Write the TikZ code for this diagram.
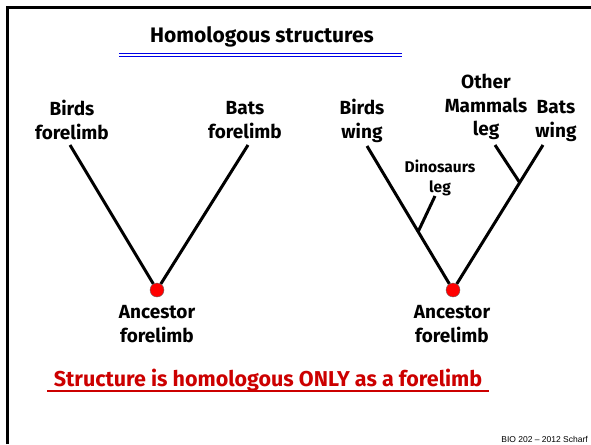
\documentclass[tikz,border=0pt]{standalone}
\usepackage{fontspec}
\setmainfont{Fira Sans}
\newfontfamily\footfont{Liberation Sans}
\definecolor{lineblue}{RGB}{0,0,230}
\definecolor{notered}{RGB}{204,0,0}
\begin{document}
\begin{tikzpicture}[x=1pt,y=-1pt,
	lbl/.style={ align=center, inner sep=0pt, font=\bfseries\fontsize{19}{23.5}\selectfont },
	lblsmall/.style={ align=center, inner sep=0pt, font=\bfseries\fontsize{15.5}{20}\selectfont },
	branch/.style={ line width=3pt },
	rootdot/.style={ circle, draw=black!60, thin, fill=red, inner sep=0pt, minimum size=14pt }
]
\useasboundingbox (0,0) rectangle (591,444);

% slide frame
\draw[line width=3pt] (7,444) -- (7,8) -- (591,8);

% title
\node at (262,37) (title) [font=\bfseries\fontsize{21}{25}\selectfont] {Homologous structures};
\draw[lineblue, line width=1pt] (119,54) -- (402,54);
\draw[lineblue, line width=1pt] (119,57) -- (402,57);

% left tree
\node at (72,120) (lbirds) [lbl] {Birds\\forelimb};
\node at (245,120) (lbats) [lbl] {Bats\\forelimb};
\node at (157,290) (ldot) [rootdot] {};
\node at (157,324) (lanc) [lbl] {Ancestor\\forelimb};
\coordinate (lbirdst) at (70,145);
\coordinate (lbatst) at (248,145);
\draw[branch] (lbirdst) to (ldot);
\draw[branch] (lbatst) to (ldot);

% right tree
\node at (362,121) (rbirds) [lbl] {Birds\\wing};
\node at (440,178) (rdino) [lblsmall] {Dinosaurs\\leg};
\node at (486,107) (rmamm) [lbl] {Other\\Mammals\\leg};
\node at (556,121) (rbats) [lbl] {Bats\\wing};
\node at (453,290) (rdot) [rootdot] {};
\node at (452,324) (ranc) [lbl] {Ancestor\\forelimb};
\coordinate (rbirdst) at (367,146);
\coordinate (rdinot) at (435,196);
\coordinate (rdinoj) at (418,232);
\coordinate (rmammt) at (495,145);
\coordinate (rmammj) at (520,183);
\coordinate (rbatst) at (543,145);
\draw[branch] (rbirdst) to (rdot);
\draw[branch] (rbatst) to (rdot);
\draw[branch] (rdinot) to (rdinoj);
\draw[branch] (rmammt) to (rmammj);

% conclusion
\node at (268,380) (note) [text=notered, font=\bfseries\fontsize{21.5}{25}\selectfont] {Structure is homologous ONLY as a forelimb};
\draw[notered, line width=1.5pt] (47,391) -- (489,391);

\node at (588,442) (foot) [anchor=base east, inner sep=0pt, font=\footfont\fontsize{8.5}{10}\selectfont] {BIO 202 \textendash{} 2012 Scharf};

\end{tikzpicture}
\end{document}
